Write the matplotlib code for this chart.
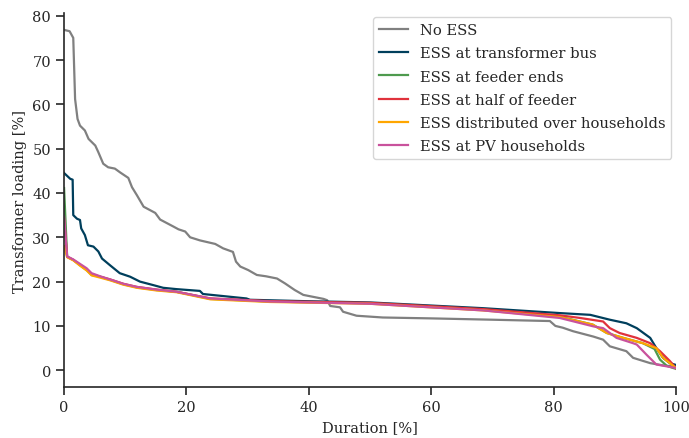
import matplotlib
matplotlib.use("Agg")
import matplotlib.pyplot as plt

plt.rcParams['font.family'] = ['DejaVu Serif']
plt.rcParams['font.size'] = 10.5
plt.rcParams['text.color'] = '#262626'
plt.rcParams['axes.labelcolor'] = '#262626'

# Load duration curves
# duration [%] and transformer loading [%]
x_no_ess = [0, 0.9, 1.5, 1.8, 2.2, 2.6, 3.4, 4.0, 5.1, 5.6, 6.4, 7.2, 8.3, 9.2, 10.5, 11.1,
            11.9, 13.0, 14.9, 15.7, 17.9, 18.7, 19.8, 20.6, 22.2, 24.7, 26.0, 27.6, 28.1,
            28.8, 30.1, 31.5, 33.0, 34.8, 36.1, 37.7, 39.1, 42.4, 43.0, 43.5, 45.1, 45.6,
            47.8, 52.1, 60.0, 70.0, 79.4, 80.3, 81.5, 83.2, 86.5, 88.1, 89.2, 91.9, 93.0,
            95.8, 97.9, 100]
y_no_ess = [76.8, 76.5, 75.0, 61.2, 56.7, 55.2, 54.1, 52.2, 50.7, 49.2, 46.6, 45.8, 45.5, 44.6,
            43.4, 41.3, 39.5, 36.9, 35.5, 34.0, 32.4, 31.8, 31.3, 30.0, 29.3, 28.5, 27.5, 26.7,
            24.5, 23.4, 22.6, 21.5, 21.2, 20.7, 19.6, 18.1, 17.0, 16.1, 15.8, 14.5, 14.2, 13.2,
            12.3, 11.9, 11.7, 11.4, 11.1, 10.0, 9.6, 8.8, 7.6, 6.9, 5.4, 4.3, 2.8, 1.6, 1.1,
            0.8]

x_trafo = [0, 1.0, 1.4, 1.5, 2.1, 2.6, 2.8, 3.4, 3.9, 4.8, 5.6, 6.2, 7.5, 9.1, 10.8, 12.4,
           14.6, 16.2, 18.4, 22.2, 22.7, 29.8, 30.4, 39.0, 50.0, 68.5, 81.0, 86.0, 89.2,
           91.9, 93.6, 95.8, 96.8, 97.9, 99.0, 100]
y_trafo = [44.5, 43.2, 43.0, 35.0, 34.2, 33.9, 32.0, 30.5, 28.2, 27.9, 26.8, 25.2, 23.7, 21.9,
           21.1, 20.0, 19.2, 18.6, 18.3, 17.9, 17.2, 16.2, 15.9, 15.6, 15.3, 14.0, 12.9, 12.5,
           11.4, 10.6, 9.5, 7.3, 5.0, 2.8, 1.6, 1.2]

x_low = [0, 0.5, 1.5, 2.6, 3.7, 4.5, 5.9, 7.5, 9.7, 11.9, 15.1, 18.4, 23.9, 33.7, 50.0,
         68.5, 81.0]
y_feeder_ends = [41.1, 25.6, 24.9, 23.7, 22.6, 21.5, 21.1, 20.4, 19.4, 18.7, 18.1, 17.7, 16.1,
                 15.5, 15.1, 13.6, 12.1]
y_half_feeder = [34.0, 25.6, 24.9, 23.8, 22.7, 21.7, 21.1, 20.5, 19.5, 18.8, 18.2, 17.7, 16.2,
                 15.6, 15.2, 13.8, 12.4]
y_distributed = [28.0, 25.5, 24.8, 23.6, 22.5, 21.4, 20.9, 20.3, 19.3, 18.6, 18.0, 17.6, 16.0,
                 15.4, 15.0, 13.5, 12.0]
y_pv = [34.7, 25.7, 25.0, 24.0, 23.0, 21.9, 21.2, 20.5, 19.5, 18.8, 18.2, 17.7, 16.2, 15.5,
        15.0, 13.5, 11.8]

x_tail_feeder_ends = [86.4, 88.7, 91.4, 94.6, 96.5, 97.4, 98.5, 100]
y_tail_feeder_ends = [10.3, 8.4, 7.3, 6.1, 4.8, 2.4, 1.0, 0.3]
x_tail_half = [84.3, 88.1, 89.2, 90.8, 93.6, 95.8, 97.4, 99.0, 100]
y_tail_half = [11.8, 11.0, 9.5, 8.4, 7.3, 6.1, 4.3, 2.1, 0.5]
x_tail_distributed = [86.4, 88.7, 91.4, 94.6, 96.8, 97.9, 100]
y_tail_distributed = [10.3, 8.4, 7.3, 6.1, 5.0, 2.8, 0.5]
x_tail_pv = [86.5, 88.1, 90.3, 93.0, 93.6, 95.2, 96.8, 100]
y_tail_pv = [9.9, 9.5, 7.3, 6.1, 5.8, 3.5, 1.3, 0.5]

labels = ['No ESS', 'ESS at transformer bus', 'ESS at feeder ends', 'ESS at half of feeder',
          'ESS distributed over households', 'ESS at PV households']
colors = ['#808080', '#003f5c', '#4e9a4e', '#e0323c', '#ffa600', '#c9529c']

series = [
    (x_no_ess, y_no_ess),
    (x_trafo, y_trafo),
    (x_low + x_tail_feeder_ends, y_feeder_ends + y_tail_feeder_ends),
    (x_low + x_tail_half, y_half_feeder + y_tail_half),
    (x_low + x_tail_distributed, y_distributed + y_tail_distributed),
    (x_low + x_tail_pv, y_pv + y_tail_pv),
]

fig = plt.figure(figsize=(6.89, 4.39), dpi=100)
ax = fig.add_axes([0.093, 0.116, 0.888, 0.852])

for (xs, ys), lab, col in zip(series, labels, colors):
    ax.plot(xs, ys, color=col, lw=1.6, label=lab)

ax.set_xlim(0, 100)
ax.set_ylim(-3.8, 80.6)
ax.set_xticks([0, 20, 40, 60, 80, 100])
ax.set_yticks([0, 10, 20, 30, 40, 50, 60, 70, 80])
ax.tick_params(direction='out', length=6, width=1.2, colors='#262626')
for side in ['top', 'right']:
    ax.spines[side].set_visible(False)
for side in ['left', 'bottom']:
    ax.spines[side].set_linewidth(1.2)
    ax.spines[side].set_color('#262626')

ax.set_xlabel('Duration [%]')
ax.set_ylabel('Transformer loading [%]')
ax.legend(loc='upper right', fontsize=10.6, frameon=True, handlelength=2.0,
          borderaxespad=0.3, labelspacing=0.62)

fig.savefig('out.png', dpi=100)
